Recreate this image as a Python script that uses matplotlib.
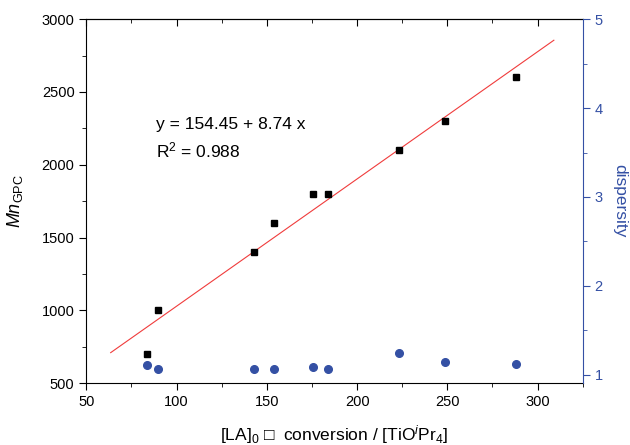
import numpy as np
from matplotlib import pyplot as plt
from matplotlib.ticker import MultipleLocator

plt.rcParams['font.family'] = ['Liberation Sans', 'DejaVu Sans']
plt.rcParams['mathtext.fontset'] = 'custom'
plt.rcParams['mathtext.rm'] = 'Liberation Sans'
plt.rcParams['mathtext.it'] = 'Liberation Sans:italic'

# degree of polymerisation (x), Mn from GPC, dispersity
dp = [83.7, 89.9, 142.7, 153.7, 175.8, 184.1, 223.0, 248.9, 288.2]
mn_gpc = [700, 1000, 1400, 1600, 1800, 1800, 2100, 2300, 2600]
dispersity = [1.11, 1.06, 1.06, 1.07, 1.09, 1.07, 1.25, 1.14, 1.12]

# linear fit
intercept = 154.45
slope = 8.74
fit_range = [63.5, 309.0]

blue = '#3450a4'

fig, ax = plt.subplots(figsize=(6.3, 4.45), dpi=100)
fig.subplots_adjust(left=0.137, right=0.925, top=0.957, bottom=0.139)

fx = np.array(fit_range)
ax.plot(fx, intercept + slope * fx, color='#f03c3c', lw=0.8, zorder=2)
ax.plot(dp, mn_gpc, 's', color='black', ms=5, zorder=3)

ax.set_xlim(50, 325)
ax.set_ylim(500, 3000)
ax.xaxis.set_major_locator(MultipleLocator(50))
ax.xaxis.set_minor_locator(MultipleLocator(25))
ax.yaxis.set_major_locator(MultipleLocator(500))
ax.yaxis.set_minor_locator(MultipleLocator(250))
ax.tick_params(axis='both', which='both', direction='out', labelsize=10.5)
ax.tick_params(which='major', length=5)
ax.tick_params(which='minor', length=3)
ax.spines['right'].set_visible(False)

ax.set_xlabel(r'[LA]$_0$ □  conversion / [TiO$^{i}$Pr$_4$]', fontsize=12.5, labelpad=10)
ax.set_ylabel(r'$Mn_{\mathrm{GPC}}$', fontsize=13, labelpad=12)

ax.text(88.5, 2275, 'y = 154.45 + 8.74 x', fontsize=12.5, va='center')
ax.text(88.5, 2100, r'R$^2$ = 0.988', fontsize=12.5, va='center')

# top axis: ticks only, pointing inward
sec = ax.secondary_xaxis('top')
sec.xaxis.set_major_locator(MultipleLocator(50))
sec.xaxis.set_minor_locator(MultipleLocator(25))
sec.tick_params(which='both', direction='in', labeltop=False)
sec.tick_params(which='major', length=5)
sec.tick_params(which='minor', length=3)

ax2 = ax.twinx()
ax2.plot(dp, dispersity, 'o', color=blue, ms=5.5, zorder=3)
ax2.set_ylim(0.906, 5)
ax2.yaxis.set_major_locator(MultipleLocator(1))
ax2.yaxis.set_minor_locator(MultipleLocator(0.5))
ax2.tick_params(axis='y', which='both', direction='out', colors=blue, labelsize=10.5)
ax2.tick_params(which='major', length=5)
ax2.tick_params(which='minor', length=3)
for s in ['left', 'top', 'bottom']:
    ax2.spines[s].set_visible(False)
ax2.spines['right'].set_color(blue)
ax2.set_ylabel('dispersity', color=blue, fontsize=12.5, rotation=270, labelpad=18)

plt.savefig('out.png', dpi=100)
